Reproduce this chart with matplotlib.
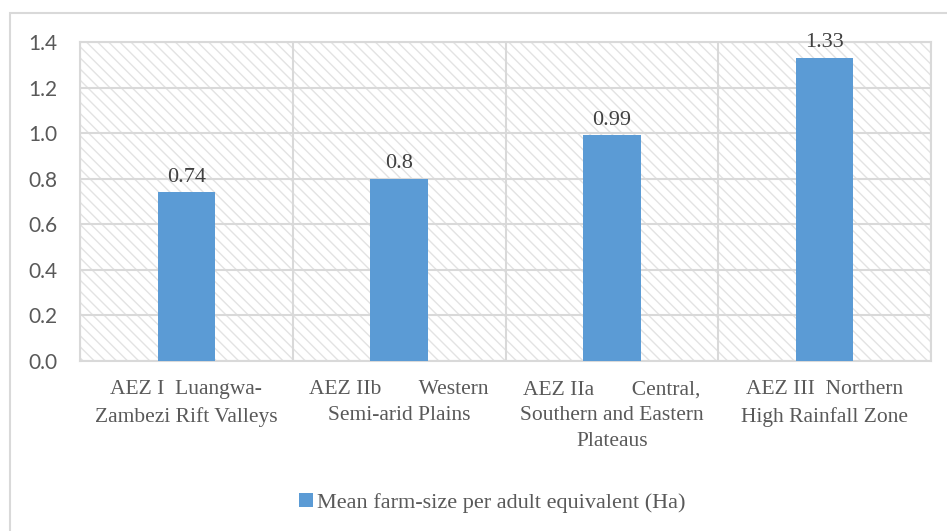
import numpy as np
import matplotlib.pyplot as plt
from matplotlib.patches import Rectangle, Patch

zones = ["AEZ I  Luangwa-\nZambezi Rift Valleys",
         "AEZ IIb       Western\nSemi-arid Plains",
         "AEZ IIa       Central,\nSouthern and Eastern\nPlateaus",
         "AEZ III  Northern\nHigh Rainfall Zone"]
farm_size = [0.74, 0.8, 0.99, 1.33]
value_labels = ["0.74", "0.8", "0.99", "1.33"]
yticks = [0.0, 0.2, 0.4, 0.6, 0.8, 1.0, 1.2, 1.4]
series_name = "Mean farm-size per adult equivalent (Ha)"

bar_color = "#5b9bd5"
grid_color = "#d9d9d9"
text_color = "#595959"
serif = "Liberation Serif"

fig = plt.figure(figsize=(9.47, 5.31), dpi=100)
# outer chart frame
fig.patches.append(Rectangle((10 / 947, -0.05), 1.0, 1 - 13 / 531 + 0.05,
                             transform=fig.transFigure, fill=False,
                             edgecolor=grid_color, linewidth=1.5))

ax = fig.add_axes([80 / 947, 1 - 361 / 531, (931 - 80) / 947, (361 - 42) / 531])

plt.rcParams['hatch.linewidth'] = 1.0
ax.patch.set_facecolor("white")
ax.patch.set_edgecolor("#e3e3e3")
ax.patch.set_hatch("\\\\\\")
ax.patch.set_linewidth(0)

x = np.arange(len(zones))
bars = ax.bar(x, farm_size, width=0.27, color=bar_color, zorder=3)

ax.set_xlim(-0.5, len(zones) - 0.5)
ax.set_ylim(0, 1.4)
ax.set_yticks(yticks)
ax.set_yticklabels([f"{v:.1f}" for v in yticks], fontsize=15, color=text_color,
                   family="Lato")
ax.set_xticks(x)
ax.set_xticklabels(zones, fontsize=15.5, color=text_color, family=serif,
                   linespacing=1.5)
ax.tick_params(axis="both", length=0)
ax.tick_params(axis="y", pad=16)
ax.tick_params(axis="x", pad=14)

for y in yticks:
    ax.axhline(y, color=grid_color, linewidth=1.5, zorder=1)
for b in np.arange(len(zones) + 1) - 0.5:
    ax.axvline(b, color=grid_color, linewidth=1.5, zorder=1)
for s in ax.spines.values():
    s.set_color(grid_color)
    s.set_linewidth(1.5)

for xi, v, lab in zip(x, farm_size, value_labels):
    ax.text(xi, v + 0.025, lab, ha="center", va="bottom", fontsize=16,
            color="#404040", family=serif)

handle = Patch(facecolor=bar_color, edgecolor="none")
fig.legend([handle], [series_name], loc="center", bbox_to_anchor=(0.52, 1 - 503 / 531),
           frameon=False, prop={"family": serif, "size": 16},
           labelcolor=text_color, handlelength=0.6, handleheight=0.6,
           handletextpad=0.2)

fig.savefig("out.png", dpi=100)
